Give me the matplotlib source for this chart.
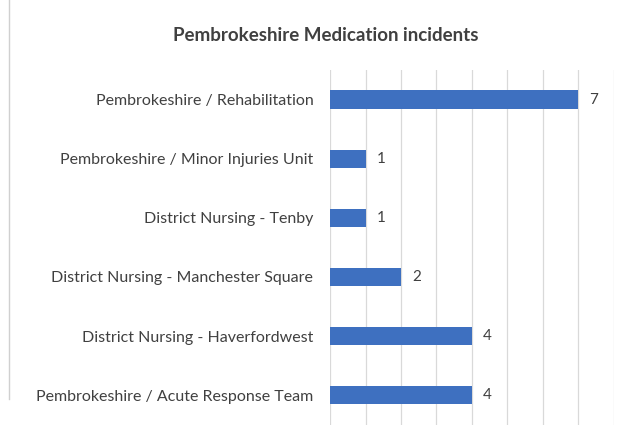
import matplotlib.pyplot as plt
from matplotlib.lines import Line2D

plt.rcParams['font.family'] = ['Lato', 'DejaVu Sans']

# Incident counts per team, listed top to bottom
teams = [
    "Pembrokeshire / Rehabilitation",
    "Pembrokeshire / Minor Injuries Unit",
    "District Nursing - Tenby",
    "District Nursing - Manchester Square",
    "District Nursing - Haverfordwest",
    "Pembrokeshire / Acute Response Team",
]
incidents = [7, 1, 1, 2, 4, 4]
x_ticks = list(range(0, 9))

bar_color = "#3E70C0"
text_color = "#404040"
grid_color = "#D9D9D9"

fig = plt.figure(figsize=(6.31, 4.43), dpi=100)
fig.patch.set_facecolor("white")

ax = fig.add_axes([0.523, 0.041, 0.45, 0.801])
pos = list(range(len(teams)))
ax.barh(pos, incidents, height=0.31, color=bar_color, zorder=3)

ax.set_xlim(0, 8)
ax.set_ylim(len(teams) - 0.5, -0.5)
ax.set_xticks(x_ticks)
ax.xaxis.grid(True, color=grid_color, linewidth=0.9, zorder=0)
ax.tick_params(axis="x", length=0, labelbottom=False)
ax.tick_params(axis="y", length=0, pad=12, labelsize=11.5, labelcolor=text_color)
ax.set_yticks(pos)
ax.set_yticklabels(teams)
for side in ax.spines.values():
    side.set_visible(False)

# value labels next to each bar
for p, v in zip(pos, incidents):
    ax.annotate(str(v), (v, p), xytext=(8, 0), textcoords="offset points",
                va="center", ha="left", fontsize=11, color=text_color)

fig.text(0.517, 0.92, "Pembrokeshire Medication incidents", ha="center",
         va="center", fontsize=13.5, fontweight="bold", color=text_color)

# faint frame edge on the left
fig.add_artist(Line2D([0.014, 0.014], [0.10, 1.0], transform=fig.transFigure,
                      color="#D0D0D0", linewidth=1))

fig.savefig("out.png", dpi=100)
